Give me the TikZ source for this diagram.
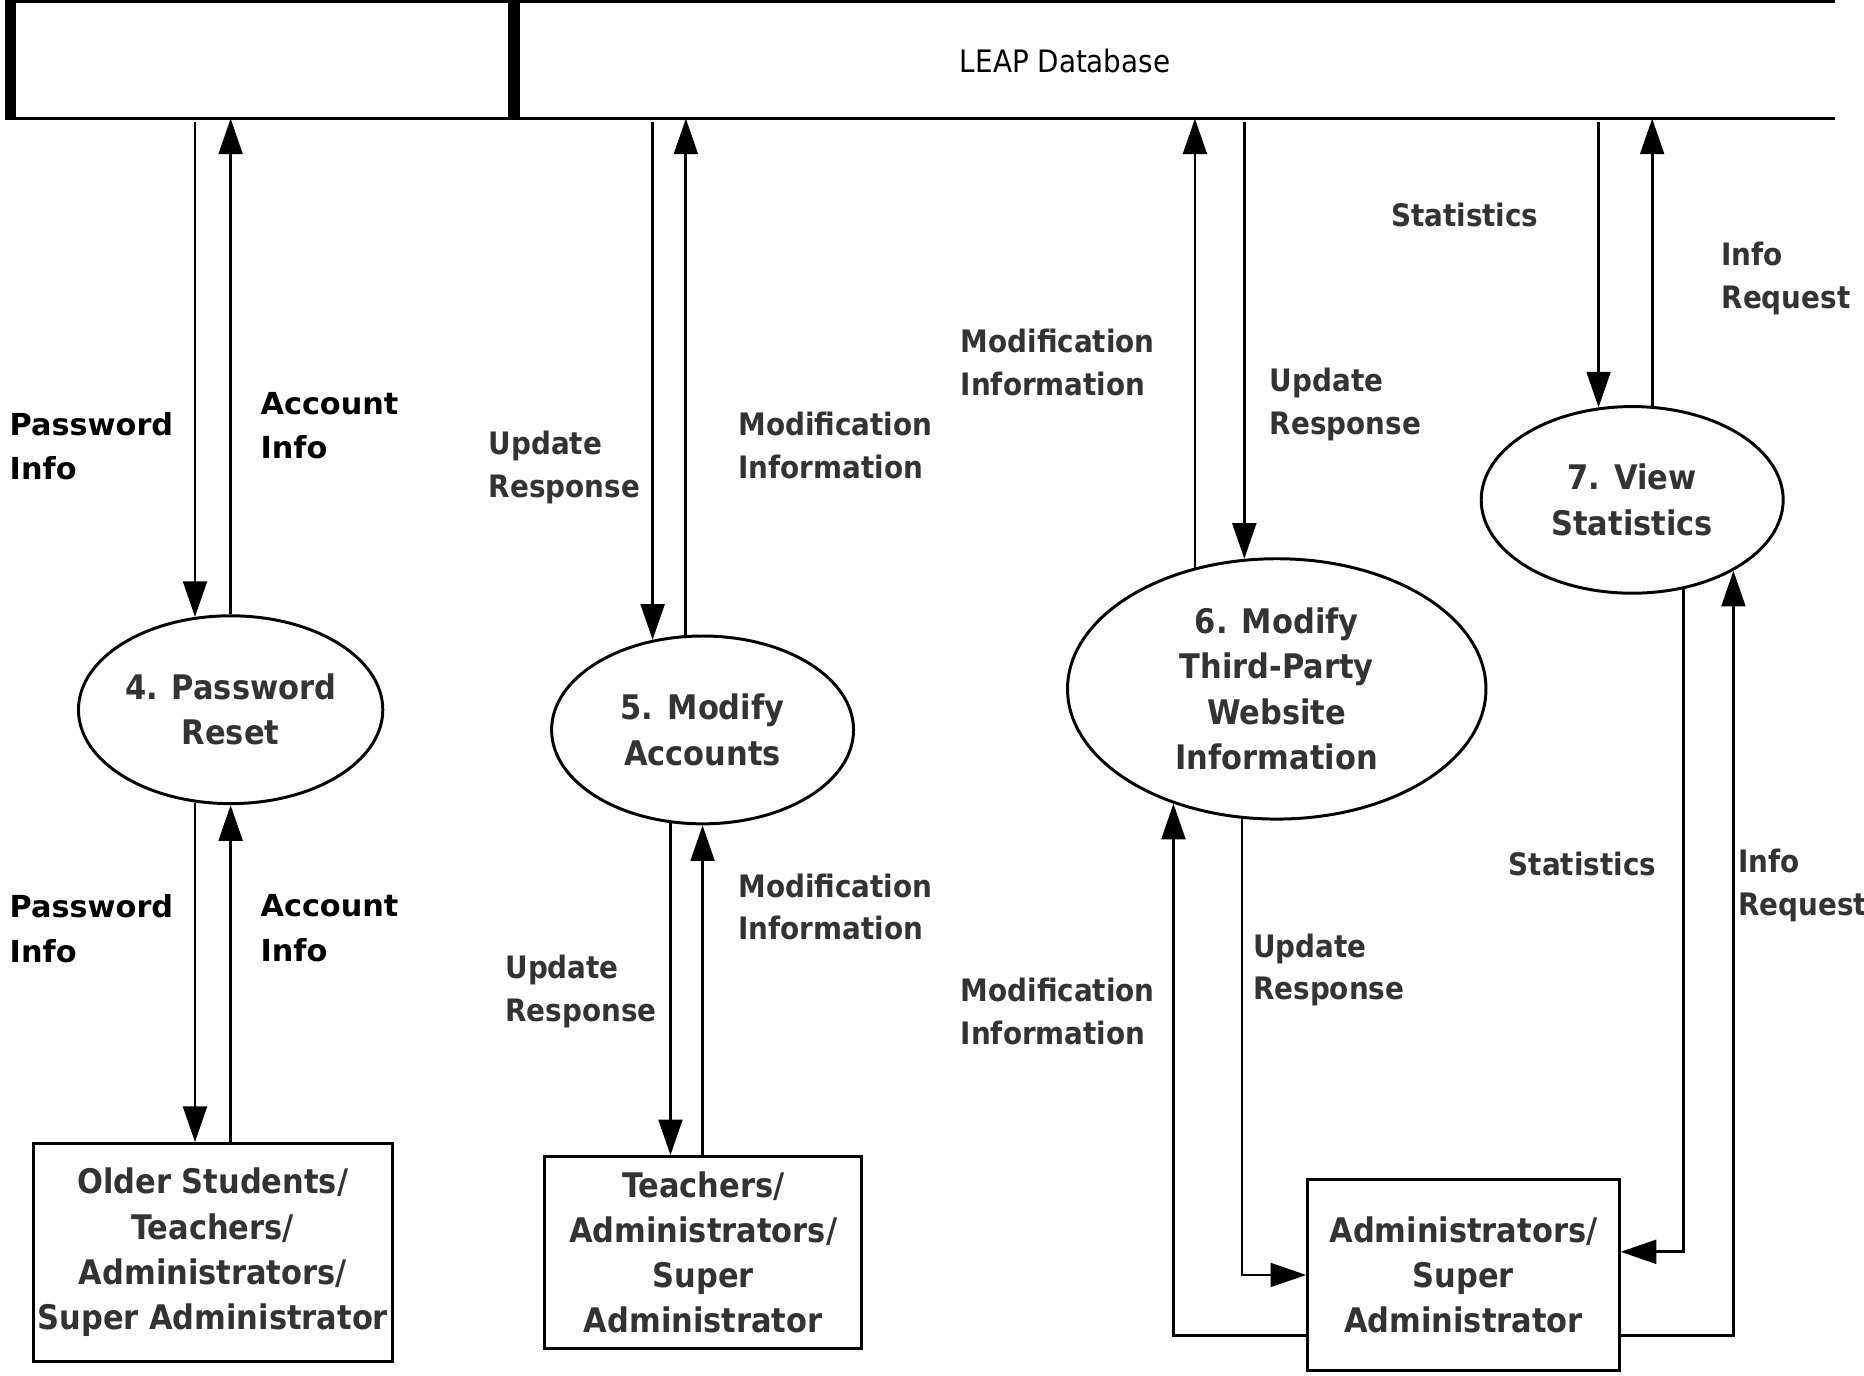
\documentclass[tikz,border=0pt]{standalone}
\usepackage{fontspec}
\setmainfont{DejaVu Sans}
\newfontfamily\condfont{DejaVu Sans Condensed}
\usepackage{tikz}
\usetikzlibrary{shapes.geometric, arrows.meta}
\definecolor{textgray}{RGB}{51,51,51}

\begin{document}
\begin{tikzpicture}[x=1pt, y=-1pt]
	\tikzstyle{process} = [ellipse, draw=black, line width=2.5pt, inner sep=0pt, 
	text=textgray, align=center, font=\condfont\bfseries\fontsize{28.5}{38}\selectfont]
	\tikzstyle{entity} = [rectangle, draw=black, line width=2.5pt, inner sep=0pt, 
	text=textgray, align=center, font=\condfont\bfseries\fontsize{28.5}{38}\selectfont]
	\tikzstyle{flowtext} = [anchor=west, inner sep=0pt, align=left, text=textgray, 
	font=\condfont\bfseries\fontsize{26}{36}\selectfont]
	\tikzstyle{flowdark} = [anchor=west, inner sep=0pt, align=left, text=black, 
	font=\bfseries\fontsize{25.5}{37.5}\selectfont]
	\tikzstyle{dbline} = [line width=3pt]
	\tikzstyle{dbbar} = [line width=10pt, shorten <=-1.5pt, shorten >=-1.5pt]
	\tikzstyle{arrow} = [line width=2.4pt, -{Triangle[length=30pt, width=20pt]}]
	\useasboundingbox (0,0) rectangle (1568,1157);
	\node (db) [minimum width=1534pt, minimum height=98pt, inner sep=0pt] at (776,50.5) {};
	\node (dbtitle) [font=\condfont\fontsize{26}{30}\selectfont] at (896,51) {LEAP Database};
	\coordinate (dbsplit) at (432,50.5);
	\node (proc4) [process, minimum width=256pt, minimum height=158pt] at (194,597) 
	{4. Password\\Reset};
	\node (proc5) [process, minimum width=254pt, minimum height=158pt] at (591,614) 
	{5. Modify\\Accounts};
	\node (proc6) [process, minimum width=352pt, minimum height=219pt] at (1074,579.5) 
	{6. Modify\\Third-Party\\Website\\Information};
	\node (proc7) [process, minimum width=254pt, minimum height=157pt] at (1373,420.5) 
	{7. View\\Statistics};
	\node (boxA) [entity, minimum width=302pt, minimum height=183pt] at (179,1053.5) 
	{Older Students/\\Teachers/\\Administrators/\\Super Administrator};
	\node (boxB) [entity, minimum width=267pt, minimum height=161pt] at (591.5,1053.5) 
	{Teachers/\\Administrators/\\Super\\Administrator};
	\node (boxC) [entity, minimum width=262pt, minimum height=161pt] at (1231,1072.5) 
	{Administrators/\\Super\\Administrator};
	\node (pwTop) [flowdark] at (8,375.5) {Password\\Info};
	\node (acTop) [flowdark] at (219,358) {Account\\Info};
	\node (urTop5) [flowtext] at (411,393) {Update\\Response};
	\node (miTop5) [flowtext] at (621,375) {Modification\\Information};
	\node (miTop6) [flowtext] at (808,305) {Modification\\Information};
	\node (urTop6) [flowtext] at (1068,340) {Update\\Response};
	\node (stTop7) [flowtext] at (1170,181) {Statistics};
	\node (irTop7) [flowtext] at (1448,234) {Info\\Request};
	\node (pwBot) [flowdark] at (8,781) {Password\\Info};
	\node (acBot) [flowdark] at (219,781) {Account\\Info};
	\node (urBot5) [flowtext] at (425,834) {Update\\Response};
	\node (miBot5) [flowtext] at (621,763) {Modification\\Information};
	\node (miBot6) [flowtext] at (808,851) {Modification\\Information};
	\node (urBot6) [flowtext] at (1054,816) {Update\\Response};
	\node (stBot7) [flowtext] at (1269,727) {Statistics};
	\node (irBot7) [flowtext] at (1462,745) {Info\\Request};
	\draw [dbline] (db.north west) -- (db.north east);
	\draw [dbline] (db.south west) -- (db.south east);
	\draw [dbbar] (db.north west) -- (db.south west);
	\draw [dbbar] (db.north -| dbsplit) -- (db.south -| dbsplit);
	\draw [arrow, shorten <=3pt] (db.south -| proc4.111) -- (proc4.111);
	\draw [arrow] (proc4.north) -- (db.south -| proc4.north);
	\draw [arrow] (proc4.249) -- (proc4.249 |- boxA.north);
	\draw [arrow] (boxA.north -| proc4.south) -- (proc4.south);
	\draw [arrow, shorten <=3pt] (db.south -| proc5.119) -- (proc5.119);
	\draw [arrow] (proc5.100) -- (db.south -| proc5.100);
	\draw [arrow] (proc5.251) -- (proc5.251 |- boxB.north);
	\draw [arrow] (boxB.north -| proc5.south) -- (proc5.south);
	\draw [arrow] (proc6.124) -- (db.south -| proc6.124);
	\draw [arrow, shorten <=3pt] (db.south -| proc6.104) -- (proc6.104);
	\draw [arrow] ([yshift=-51pt]boxC.west) -| (proc6.228);
	\draw [arrow] (proc6.255) |- (boxC.west);
	\draw [arrow, shorten <=3pt] (db.south -| proc7.110) -- (proc7.110);
	\draw [arrow] (proc7.78) -- (db.south -| proc7.78);
	\draw [arrow] (proc7.300) |- ([yshift=19.5pt]boxC.east);
	\draw [arrow] ([yshift=-51pt]boxC.east) -| (proc7.325);
\end{tikzpicture}
\end{document}
